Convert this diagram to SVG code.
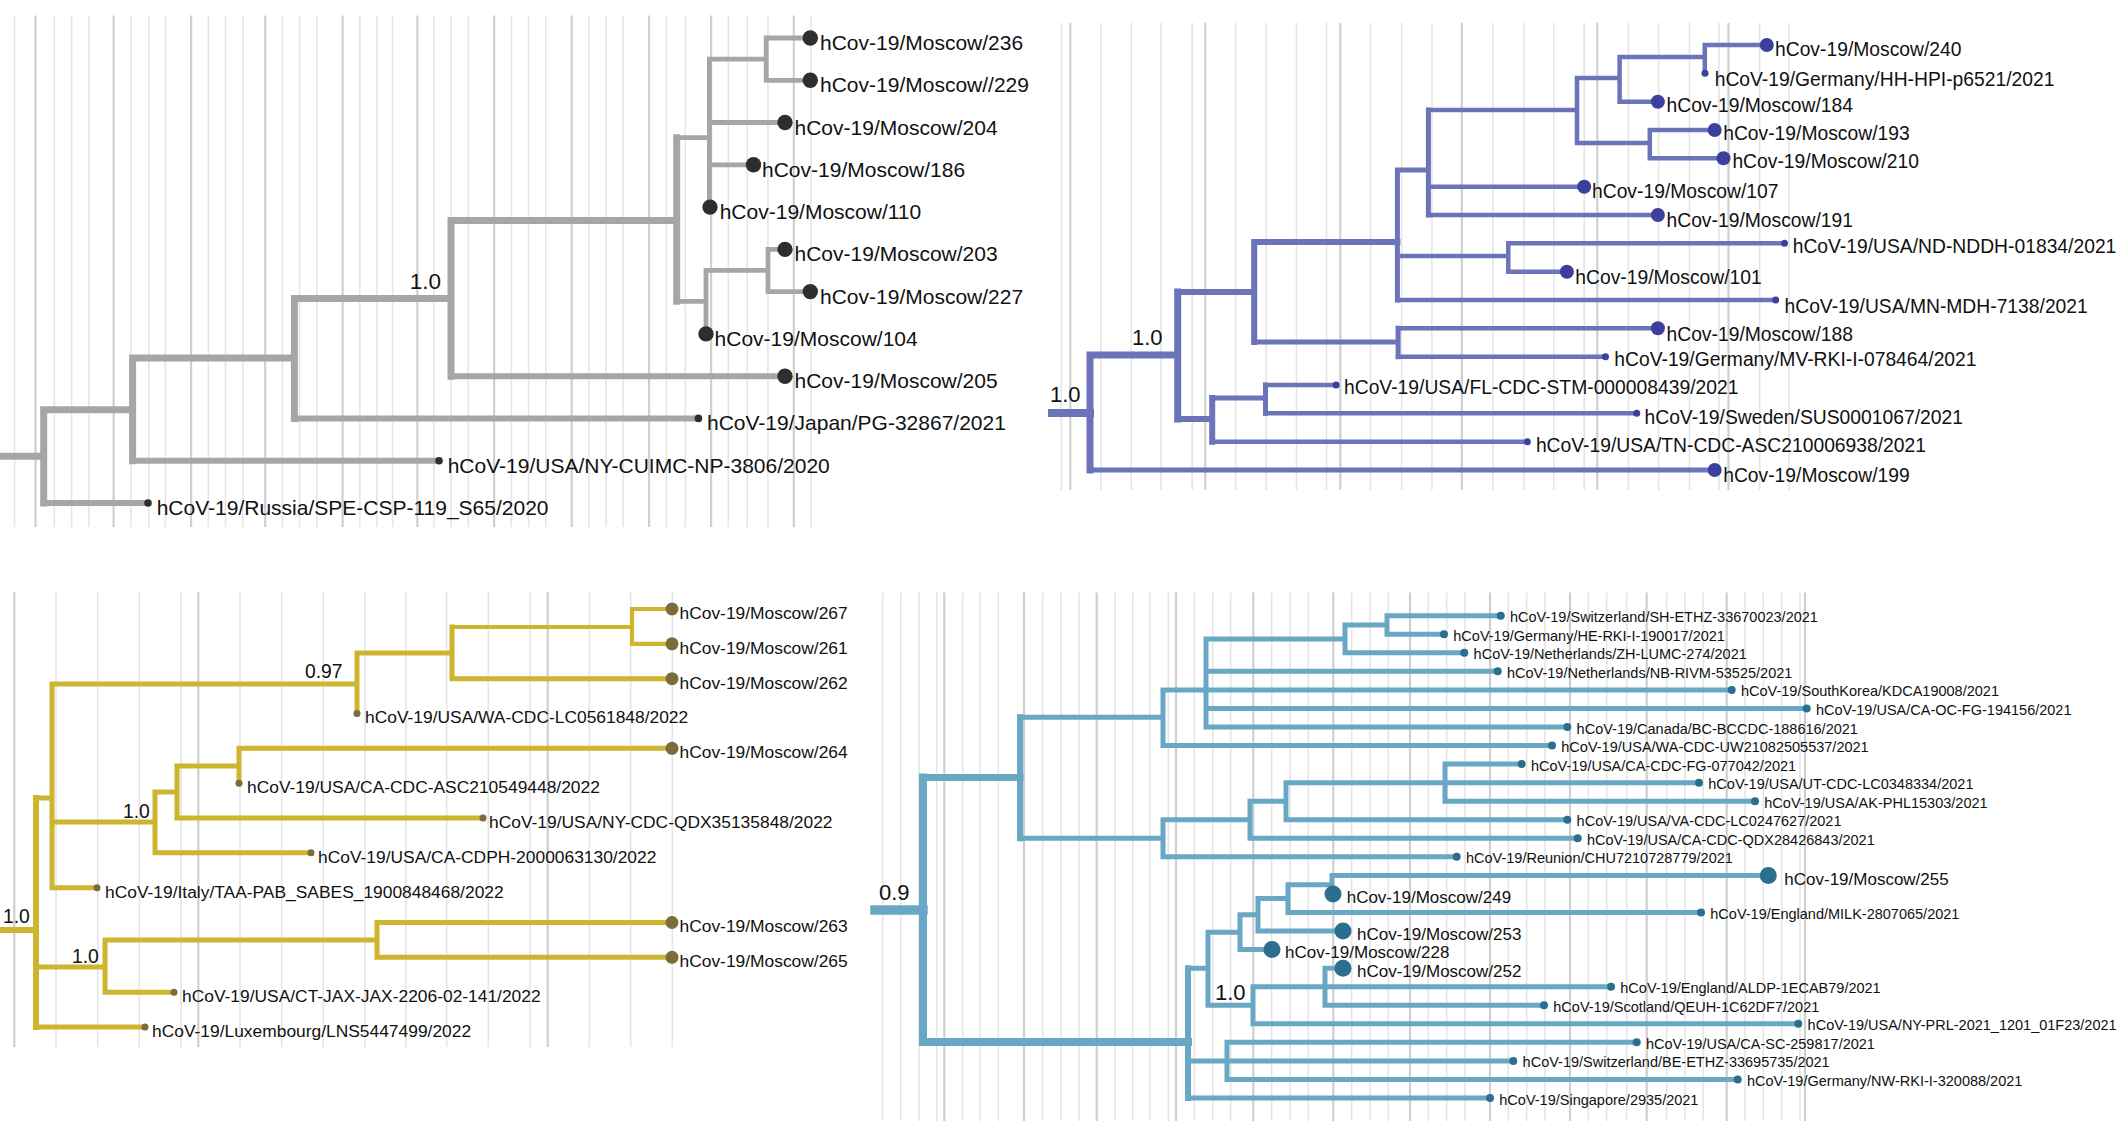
<svg xmlns="http://www.w3.org/2000/svg" width="2126" height="1140" viewBox="0 0 2126 1140">
<style>
.gl{stroke:#e5e5e5;stroke-width:1.6;fill:none}
.gd{stroke:#cfcfcf;stroke-width:2.2;fill:none}
.e{fill:none;stroke-linecap:square;stroke-linejoin:miter}
.e1{stroke:#a4a6a8}
.e2{stroke:#6b73b9}
.e3{stroke:#cdb52f}
.e4{stroke:#69a8c5}
.d1{fill:#2e2e2e}
.d2{fill:#3b3f9d}
.d3{fill:#7a6c3b}
.d4{fill:#2b6e8e}
text{font-family:"Liberation Sans",Arial,Helvetica,sans-serif;fill:#111}
.t1{font-size:21px}
.t2{font-size:19.3px}
.t3{font-size:17.4px}
.t4{font-size:14.5px}
.t4m{font-size:17px}
.s1{font-size:22.5px}
.s2{font-size:22px}
.s3{font-size:19.3px}
</style>

<!-- gridlines -->
<g id="grid">
<path class="gl" d="M14.5 15.5V527M54.4 15.5V527M71.6 15.5V527M88.8 15.5V527M130.9 15.5V527M148.8 15.5V527M165.3 15.5V527M208.3 15.5V527M225.5 15.5V527M242.8 15.5V527M282.4 15.5V527M299.6 15.5V527M316.8 15.5V527M359.8 15.5V527M377 15.5V527M392.6 15.5V527M433.9 15.5V527M451.1 15.5V527M468.3 15.5V527M511.4 15.5V527M528.6 15.5V527M545.8 15.5V527M588.9 15.5V527M606.1 15.5V527M623.3 15.5V527M666.4 15.5V527M685.3 15.5V527M728.3 15.5V527M747.3 15.5V527M767.9 15.5V527M811 15.5V527"/>
<path class="gd" d="M35.5 15.5V527M113.6 15.5V527M191.1 15.5V527M265.2 15.5V527M342.6 15.5V527M417.4 15.5V527M494.1 15.5V527M571.7 15.5V527M649.1 15.5V527M711.1 15.5V527M793.8 15.5V527"/>
<path class="gl" d="M1061.3 22.7V490M1101 22.7V490M1131.3 22.7V490M1161.2 22.7V490M1192.2 22.7V490M1235.6 22.7V490M1266.2 22.7V490M1296.5 22.7V490M1326.5 22.7V490M1370.6 22.7V490M1401.6 22.7V490M1431.9 22.7V490M1492.8 22.7V490M1523.8 22.7V490M1553.8 22.7V490M1584.2 22.7V490M1628.5 22.7V490M1658.7 22.7V490M1689.5 22.7V490M1718.9 22.7V490M1759.7 22.7V490M1789.1 22.7V490"/>
<path class="gd" d="M1070.3 22.7V490M1205.3 22.7V490M1340.3 22.7V490M1461.8 22.7V490M1597.3 22.7V490M1728.5 22.7V490"/>
<path class="gl" d="M56 592V1047M97.7 592V1047M139.3 592V1047M181 592V1047M240 592V1047M281.7 592V1047M323.3 592V1047M365 592V1047M406 592V1047M446.7 592V1047M488.3 592V1047M530 592V1047M589.3 592V1047M630.7 592V1047M672.3 592V1047"/>
<path class="gd" d="M14.3 592V1047M198.3 592V1047M547.7 592V1047"/>
<path class="gl" d="M882.7 592.5V1121M900.7 592.5V1121M919 592.5V1121M936.7 592.5V1121M962.7 592.5V1121M980 592.5V1121M998.3 592.5V1121M1042.7 592.5V1121M1061 592.5V1121M1079.3 592.5V1121M1115 592.5V1121M1132.7 592.5V1121M1150 592.5V1121M1168.3 592.5V1121M1194.3 592.5V1121M1212.7 592.5V1121M1230.7 592.5V1121M1271.7 592.5V1121M1290 592.5V1121M1308.3 592.5V1121M1351.7 592.5V1121M1370 592.5V1121M1388.3 592.5V1121M1428.3 592.5V1121M1446.7 592.5V1121M1465 592.5V1121M1508.3 592.5V1121M1526.7 592.5V1121M1545 592.5V1121M1588.3 592.5V1121M1606.7 592.5V1121M1626.7 592.5V1121M1666.7 592.5V1121M1685 592.5V1121M1703.3 592.5V1121M1745 592.5V1121M1763.3 592.5V1121M1781.7 592.5V1121M1800 592.5V1121"/>
<path class="gd" d="M944.3 592.5V1121M1024 592.5V1121M1096.7 592.5V1121M1176 592.5V1121M1253.3 592.5V1121M1333.3 592.5V1121M1410 592.5V1121M1490 592.5V1121M1570 592.5V1121M1646.7 592.5V1121M1726.7 592.5V1121M1805 592.5V1121"/>
</g>

<!-- connectors -->
<g id="connectors">
<g id="p1-edges" class="e e1">
<path stroke-width="7" d="M0 456.3H43.7M43.7 409.8V503M43.7 409.8H132.6M132.6 358V460.7M132.6 358H294.4M294.4 298.6V418.4M294.4 298.6H451M451 220.4V376.2M451 220.4H676.7M676.7 137.7V301.3"/>
<path stroke-width="6" d="M43.7 503H148M132.6 460.7H439M294.4 418.4H698.4M451 376.2H785"/>
<path stroke-width="4.8" d="M676.7 137.7H709.4M709.4 59.2V207.1M709.4 59.2H766.2M766.2 38V80.3M766.2 38H810M766.2 80.3H810M709.4 122.5H785M709.4 164.8H753.5M676.7 301.3H706M706 270.3V333.9M706 270.3H768M768 249.4V291.6M768 249.4H785M768 291.6H810"/>
</g>
<g id="p2-edges" class="e e2">
<path stroke-width="8" d="M1052 413H1090"/>
<path stroke-width="7" d="M1090 355V470M1090 355H1177.7M1177.7 292V419"/>
<path stroke-width="6" d="M1177.7 292H1254.2M1254.2 242V342M1254.2 242H1397.4M1177.7 419H1212.2M1212.2 398V441.7"/>
<path stroke-width="5" d="M1397.4 170V300M1397.4 170H1428.4M1428.4 110V215M1254.2 342H1398.1M1398.1 328.3V356.7M1090 470H1714.7M1212.2 398H1265.5M1265.5 385V413.3"/>
<path stroke-width="4.5" d="M1428.4 110H1577M1577 78V143M1577 78H1619.6M1619.6 57V101.7M1619.6 57H1704.8M1704.8 45V73.3M1704.8 45H1766.8M1619.6 101.7H1657.9M1577 143H1649.8M1649.8 130V158.3M1649.8 130H1714.7M1649.8 158.3H1723.5M1428.4 186.7H1584.2M1428.4 215H1657.9M1397.4 256H1508.3M1508.3 243.3V271.7M1508.3 243.3H1784.5M1508.3 271.7H1566.9M1397.4 300H1775.7M1398.1 328.3H1657.9M1398.1 356.7H1605.5M1265.5 385H1336.1M1265.5 413.3H1636.7M1212.2 441.7H1527.3"/>
</g>
<g id="p3-edges" class="e e3">
<path stroke-width="6" d="M0 930H36M36 798V1027"/>
<path stroke-width="5" d="M36 798H52M52 684V887.7M52 684H357M357 653V713.5M357 653H452M452 627V678.7M452 678.7H672M52 822H155M155 792V852.8M155 792H177M177 766V818M177 766H239M239 748.3V783.2M239 748.3H672M177 818H483M155 852.8H311M52 887.7H97M36 967H105M105 940V992.2M105 940H377M377 922.5V957.3M377 922.5H672M377 957.3H672M105 992.2H174M36 1027H145"/>
<path stroke-width="4.2" d="M452 627H632M632 609V643.8M632 609H672M632 643.8H672"/>
</g>
<g id="p4-edges" class="e e4">
<path stroke-width="9.5" d="M875 910H923"/>
<path stroke-width="8" d="M923 777.5V1042M923 1042H1188"/>
<path stroke-width="7" d="M923 777.5H1020"/>
<path stroke-width="6" d="M1020 717.3V838.3M1188 968.15V1098"/>
<path stroke-width="5" d="M1020 717.3H1163M1163 689.9V745.55M1163 689.9H1206M1206 639V727M1206 639H1345M1345 625V652.8M1345 625H1387M1387 615.7V634.25M1387 615.7H1500.7M1387 634.25H1444M1345 652.8H1464.3M1206 671.35H1497.7M1206 689.9H1731.7M1206 708.45H1806.7M1206 727H1567.3M1163 745.55H1552M1020 838.3H1163M1163 819.75V856.85M1163 819.75H1250M1250 801.2V838.3M1250 801.2H1286M1286 782.65V819.75M1286 782.65H1445M1445 764.1V801.2M1445 764.1H1521.7M1445 782.65H1699M1445 801.2H1755M1286 819.75H1567.3M1250 838.3H1577.7M1163 856.85H1456.7M1188 968.15H1208M1208 932.2V1005.25M1208 932.2H1240M1240 914.8V949.6M1240 914.8H1258M1258 898.6V931.05M1258 898.6H1288M1288 884.7V912.5M1288 884.7H1332M1332 875.4V893.95M1332 875.4H1768.3M1288 912.5H1701M1258 931.05H1343M1240 949.6H1272M1208 1005.25H1253M1253 986.7V1023.8M1253 986.7H1325M1325 968.15V1005.25M1325 968.15H1343M1325 986.7H1611M1325 1005.25H1544M1253 1023.8H1798.3M1188 1060.9H1227M1227 1042.35V1079.45M1227 1042.35H1636.7M1227 1060.9H1513.3M1227 1079.45H1737.7M1188 1098H1490"/>
</g>
</g>

<!-- support values -->
<g id="support">
<text class="s1" x="441" y="289" text-anchor="end">1.0</text>
<text class="s2" x="1050" y="401.7">1.0</text>
<text class="s2" x="1132" y="345">1.0</text>
<text class="s3" x="305" y="678">0.97</text>
<text class="s3" x="123" y="818">1.0</text>
<text class="s3" x="72" y="963">1.0</text>
<text class="s3" x="3" y="923">1.0</text>
<text class="s2" x="879" y="899.6">0.9</text>
<text class="s2" x="1215" y="1000">1.0</text>
</g>

<!-- panel 1 leaves -->
<g id="p1-moscow-236"><circle class="d1" cx="810.3" cy="38" r="7.7"/><text class="t1" x="820" y="50">hCov-19/Moscow/236</text></g>
<g id="p1-moscow-229"><circle class="d1" cx="810.3" cy="80.3" r="7.7"/><text class="t1" x="820" y="92.3">hCov-19/Moscow//229</text></g>
<g id="p1-moscow-204"><circle class="d1" cx="785" cy="122.5" r="7.7"/><text class="t1" x="794.5" y="134.5">hCov-19/Moscow/204</text></g>
<g id="p1-moscow-186"><circle class="d1" cx="753.5" cy="164.8" r="7.7"/><text class="t1" x="762" y="176.8">hCov-19/Moscow/186</text></g>
<g id="p1-moscow-110"><circle class="d1" cx="710" cy="207.1" r="7.7"/><text class="t1" x="719.7" y="219">hCov-19/Moscow/110</text></g>
<g id="p1-moscow-203"><circle class="d1" cx="785" cy="249.4" r="7.7"/><text class="t1" x="794.5" y="261.4">hCov-19/Moscow/203</text></g>
<g id="p1-moscow-227"><circle class="d1" cx="810.3" cy="291.6" r="7.7"/><text class="t1" x="820" y="303.6">hCov-19/Moscow/227</text></g>
<g id="p1-moscow-104"><circle class="d1" cx="706" cy="333.9" r="7.7"/><text class="t1" x="714.6" y="345.9">hCov-19/Moscow/104</text></g>
<g id="p1-moscow-205"><circle class="d1" cx="785" cy="376.2" r="7.7"/><text class="t1" x="794.5" y="388.2">hCov-19/Moscow/205</text></g>
<g id="p1-japan"><circle class="d1" cx="698.4" cy="418.4" r="3.8"/><text class="t1" x="707" y="430.4">hCoV-19/Japan/PG-32867/2021</text></g>
<g id="p1-usa-ny"><circle class="d1" cx="439" cy="460.7" r="3.8"/><text class="t1" x="447.7" y="472.7">hCoV-19/USA/NY-CUIMC-NP-3806/2020</text></g>
<g id="p1-russia"><circle class="d1" cx="148" cy="503" r="3.8"/><text class="t1" x="156.7" y="515">hCoV-19/Russia/SPE-CSP-119_S65/2020</text></g>

<!-- panel 2 leaves -->
<g id="p2-moscow-240"><circle class="d2" cx="1766.8" cy="45" r="7"/><text class="t2" x="1775" y="55.5">hCov-19/Moscow/240</text></g>
<g id="p2-germany-hh"><circle class="d2" cx="1705" cy="73.3" r="3.5"/><text class="t2" x="1714.7" y="86">hCoV-19/Germany/HH-HPI-p6521/2021</text></g>
<g id="p2-moscow-184"><circle class="d2" cx="1657.9" cy="101.7" r="7"/><text class="t2" x="1666.5" y="111.5">hCov-19/Moscow/184</text></g>
<g id="p2-moscow-193"><circle class="d2" cx="1714.7" cy="130" r="7"/><text class="t2" x="1723.2" y="139.5">hCov-19/Moscow/193</text></g>
<g id="p2-moscow-210"><circle class="d2" cx="1723.5" cy="158.3" r="7"/><text class="t2" x="1732.4" y="167.5">hCov-19/Moscow/210</text></g>
<g id="p2-moscow-107"><circle class="d2" cx="1584.2" cy="186.7" r="7"/><text class="t2" x="1592" y="198">hCov-19/Moscow/107</text></g>
<g id="p2-moscow-191"><circle class="d2" cx="1657.9" cy="215" r="7"/><text class="t2" x="1666.5" y="227">hCov-19/Moscow/191</text></g>
<g id="p2-usa-nd"><circle class="d2" cx="1784.5" cy="243.3" r="3.5"/><text class="t2" x="1792.7" y="252.5">hCoV-19/USA/ND-NDDH-01834/2021</text></g>
<g id="p2-moscow-101"><circle class="d2" cx="1566.9" cy="271.7" r="7"/><text class="t2" x="1575.3" y="284">hCov-19/Moscow/101</text></g>
<g id="p2-usa-mn"><circle class="d2" cx="1775.7" cy="300" r="3.5"/><text class="t2" x="1784.5" y="313">hCoV-19/USA/MN-MDH-7138/2021</text></g>
<g id="p2-moscow-188"><circle class="d2" cx="1657.9" cy="328.3" r="7"/><text class="t2" x="1666.5" y="341">hCov-19/Moscow/188</text></g>
<g id="p2-germany-mv"><circle class="d2" cx="1605.5" cy="356.7" r="3.5"/><text class="t2" x="1614.3" y="365.5">hCoV-19/Germany/MV-RKI-I-078464/2021</text></g>
<g id="p2-usa-fl"><circle class="d2" cx="1336.1" cy="385" r="3.5"/><text class="t2" x="1344" y="394">hCoV-19/USA/FL-CDC-STM-000008439/2021</text></g>
<g id="p2-sweden"><circle class="d2" cx="1636.7" cy="413.3" r="3.5"/><text class="t2" x="1644.5" y="424">hCoV-19/Sweden/SUS0001067/2021</text></g>
<g id="p2-usa-tn"><circle class="d2" cx="1527.3" cy="441.7" r="3.5"/><text class="t2" x="1535.9" y="452">hCoV-19/USA/TN-CDC-ASC210006938/2021</text></g>
<g id="p2-moscow-199"><circle class="d2" cx="1714.7" cy="470" r="7"/><text class="t2" x="1723.2" y="482">hCov-19/Moscow/199</text></g>

<!-- panel 3 leaves -->
<g id="p3-moscow-267"><circle class="d3" cx="672" cy="609" r="6.5"/><text class="t3" x="679.5" y="619">hCov-19/Moscow/267</text></g>
<g id="p3-moscow-261"><circle class="d3" cx="672" cy="643.8" r="6.5"/><text class="t3" x="679.5" y="654">hCov-19/Moscow/261</text></g>
<g id="p3-moscow-262"><circle class="d3" cx="672" cy="678.7" r="6.5"/><text class="t3" x="679.5" y="688.5">hCov-19/Moscow/262</text></g>
<g id="p3-usa-wa"><circle class="d3" cx="357" cy="713.5" r="3.5"/><text class="t3" x="365" y="723">hCoV-19/USA/WA-CDC-LC0561848/2022</text></g>
<g id="p3-moscow-264"><circle class="d3" cx="672" cy="748.3" r="6.5"/><text class="t3" x="679.5" y="758">hCov-19/Moscow/264</text></g>
<g id="p3-usa-ca-asc"><circle class="d3" cx="239" cy="783.2" r="3.5"/><text class="t3" x="247" y="793">hCoV-19/USA/CA-CDC-ASC210549448/2022</text></g>
<g id="p3-usa-ny"><circle class="d3" cx="483" cy="818" r="3.5"/><text class="t3" x="489" y="828">hCoV-19/USA/NY-CDC-QDX35135848/2022</text></g>
<g id="p3-usa-ca-cdph"><circle class="d3" cx="311" cy="852.8" r="3.5"/><text class="t3" x="318" y="863">hCoV-19/USA/CA-CDPH-2000063130/2022</text></g>
<g id="p3-italy"><circle class="d3" cx="97" cy="887.7" r="3.5"/><text class="t3" x="105" y="897.5">hCoV-19/Italy/TAA-PAB_SABES_1900848468/2022</text></g>
<g id="p3-moscow-263"><circle class="d3" cx="672" cy="922.5" r="6.5"/><text class="t3" x="679.5" y="932">hCov-19/Moscow/263</text></g>
<g id="p3-moscow-265"><circle class="d3" cx="672" cy="957.3" r="6.5"/><text class="t3" x="679.5" y="967">hCov-19/Moscow/265</text></g>
<g id="p3-usa-ct"><circle class="d3" cx="174" cy="992.2" r="3.5"/><text class="t3" x="182" y="1002">hCoV-19/USA/CT-JAX-JAX-2206-02-141/2022</text></g>
<g id="p3-luxembourg"><circle class="d3" cx="145" cy="1027" r="3.5"/><text class="t3" x="152" y="1037">hCoV-19/Luxembourg/LNS5447499/2022</text></g>

<!-- panel 4 leaves -->
<g id="p4-switzerland-sh"><circle class="d4" cx="1500.7" cy="615.7" r="4"/><text class="t4" x="1510" y="622.2">hCoV-19/Switzerland/SH-ETHZ-33670023/2021</text></g>
<g id="p4-germany-he"><circle class="d4" cx="1444" cy="634.25" r="4"/><text class="t4" x="1453.3" y="640.75">hCoV-19/Germany/HE-RKI-I-190017/2021</text></g>
<g id="p4-netherlands-zh"><circle class="d4" cx="1464.3" cy="652.8" r="4"/><text class="t4" x="1473.6" y="659.3">hCoV-19/Netherlands/ZH-LUMC-274/2021</text></g>
<g id="p4-netherlands-nb"><circle class="d4" cx="1497.7" cy="671.35" r="4"/><text class="t4" x="1507" y="677.85">hCoV-19/Netherlands/NB-RIVM-53525/2021</text></g>
<g id="p4-southkorea"><circle class="d4" cx="1731.7" cy="689.9" r="4"/><text class="t4" x="1741" y="696.4">hCoV-19/SouthKorea/KDCA19008/2021</text></g>
<g id="p4-usa-ca-oc"><circle class="d4" cx="1806.7" cy="708.45" r="4"/><text class="t4" x="1816" y="714.95">hCoV-19/USA/CA-OC-FG-194156/2021</text></g>
<g id="p4-canada"><circle class="d4" cx="1567.3" cy="727" r="4"/><text class="t4" x="1576.6" y="733.5">hCoV-19/Canada/BC-BCCDC-188616/2021</text></g>
<g id="p4-usa-wa"><circle class="d4" cx="1552" cy="745.55" r="4"/><text class="t4" x="1561.3" y="752.05">hCoV-19/USA/WA-CDC-UW21082505537/2021</text></g>
<g id="p4-usa-ca-fg"><circle class="d4" cx="1521.7" cy="764.1" r="4"/><text class="t4" x="1531" y="770.6">hCoV-19/USA/CA-CDC-FG-077042/2021</text></g>
<g id="p4-usa-ut"><circle class="d4" cx="1699" cy="782.65" r="4"/><text class="t4" x="1708.3" y="789.15">hCoV-19/USA/UT-CDC-LC0348334/2021</text></g>
<g id="p4-usa-ak"><circle class="d4" cx="1755" cy="801.2" r="4"/><text class="t4" x="1764.3" y="807.7">hCoV-19/USA/AK-PHL15303/2021</text></g>
<g id="p4-usa-va"><circle class="d4" cx="1567.3" cy="819.75" r="4"/><text class="t4" x="1576.6" y="826.25">hCoV-19/USA/VA-CDC-LC0247627/2021</text></g>
<g id="p4-usa-ca-qdx"><circle class="d4" cx="1577.7" cy="838.3" r="4"/><text class="t4" x="1587" y="844.8">hCoV-19/USA/CA-CDC-QDX28426843/2021</text></g>
<g id="p4-reunion"><circle class="d4" cx="1456.7" cy="856.85" r="4"/><text class="t4" x="1466" y="863.35">hCoV-19/Reunion/CHU7210728779/2021</text></g>
<g id="p4-moscow-255"><circle class="d4" cx="1768.3" cy="875.4" r="8.5"/><text class="t4m" x="1784.3" y="885">hCov-19/Moscow/255</text></g>
<g id="p4-moscow-249"><circle class="d4" cx="1333" cy="893.95" r="8.5"/><text class="t4m" x="1346.7" y="903.3">hCov-19/Moscow/249</text></g>
<g id="p4-england-milk"><circle class="d4" cx="1701" cy="912.5" r="4"/><text class="t4" x="1710.3" y="919">hCoV-19/England/MILK-2807065/2021</text></g>
<g id="p4-moscow-253"><circle class="d4" cx="1343" cy="931.05" r="8.5"/><text class="t4m" x="1357" y="940">hCov-19/Moscow/253</text></g>
<g id="p4-moscow-228"><circle class="d4" cx="1272" cy="949.6" r="8.5"/><text class="t4m" x="1285" y="958.3">hCov-19/Moscow/228</text></g>
<g id="p4-moscow-252"><circle class="d4" cx="1343" cy="968.15" r="8.5"/><text class="t4m" x="1357" y="976.7">hCov-19/Moscow/252</text></g>
<g id="p4-england-aldp"><circle class="d4" cx="1611" cy="986.7" r="4"/><text class="t4" x="1620.3" y="993.2">hCoV-19/England/ALDP-1ECAB79/2021</text></g>
<g id="p4-scotland"><circle class="d4" cx="1544" cy="1005.25" r="4"/><text class="t4" x="1553.3" y="1011.75">hCoV-19/Scotland/QEUH-1C62DF7/2021</text></g>
<g id="p4-usa-ny"><circle class="d4" cx="1798.3" cy="1023.8" r="4"/><text class="t4" x="1807.6" y="1030.3">hCoV-19/USA/NY-PRL-2021_1201_01F23/2021</text></g>
<g id="p4-usa-ca-sc"><circle class="d4" cx="1636.7" cy="1042.35" r="4"/><text class="t4" x="1646" y="1048.85">hCoV-19/USA/CA-SC-259817/2021</text></g>
<g id="p4-switzerland-be"><circle class="d4" cx="1513.3" cy="1060.9" r="4"/><text class="t4" x="1522.6" y="1067.4">hCoV-19/Switzerland/BE-ETHZ-33695735/2021</text></g>
<g id="p4-germany-nw"><circle class="d4" cx="1737.7" cy="1079.45" r="4"/><text class="t4" x="1747" y="1085.95">hCoV-19/Germany/NW-RKI-I-320088/2021</text></g>
<g id="p4-singapore"><circle class="d4" cx="1490" cy="1098" r="4"/><text class="t4" x="1499.3" y="1104.5">hCoV-19/Singapore/2935/2021</text></g>
</svg>
